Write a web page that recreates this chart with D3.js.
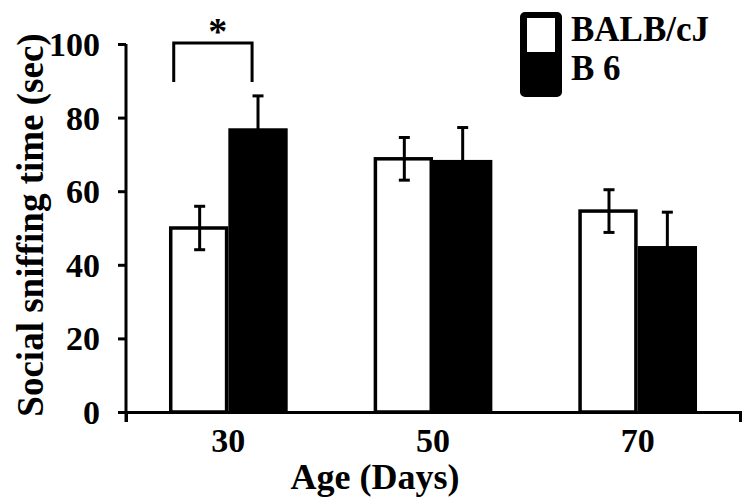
<!DOCTYPE html>
<html><head><meta charset="utf-8">
<script src="https://cdn.jsdelivr.net/npm/d3@7"></script>
<style>
html,body{margin:0;padding:0;background:#fff;}
svg{display:block;}
</style></head>
<body><svg id="chart" width="750" height="504"></svg>
<script>
const categories = ["30", "50", "70"];
const seriesNames = ["BALB/cJ", "B 6"];
const balbMeans = [50, 68.8, 54.6];
const balbErr = [5.9, 5.8, 5.8];
const b6Means = [77.1, 68.5, 45.1];
const b6Err = [8.8, 8.8, 9.2];
const yTicks = [0, 20, 40, 60, 80, 100];
const xTitle = "Age (Days)";
const yTitle = "Social sniffing time (sec)";

// pick an installed serif font, if any
function pickFont() {
  const cands = ["Liberation Serif", "Times New Roman", "Tinos", "Noto Serif", "DejaVu Serif", "FreeSerif", "Nimbus Roman", "Nimbus Roman No9 L", "Times"];
  const c = document.createElement("canvas").getContext("2d");
  const s = "Social sniffing time (sec) BALB/cJ 0123456789";
  const base = {};
  ["monospace", "sans-serif"].forEach(b => { c.font = `bold 40px ${b}`; base[b] = c.measureText(s).width; });
  for (const f of cands) {
    let ok = true;
    for (const b of ["monospace", "sans-serif"]) {
      c.font = `bold 40px "${f}", ${b}`;
      if (Math.abs(c.measureText(s).width - base[b]) < 0.5) ok = false;
    }
    if (ok) return `"${f}", serif`;
  }
  return `serif`;
}
const FONT = pickFont();

const svg = d3.select("#chart");
const L = 126, R = 740, T = 44, B = 412;

const x0 = d3.scaleBand().domain(categories).range([L, R]).paddingInner(0.42).paddingOuter(0.21);
const x1 = d3.scaleBand().domain(seriesNames).range([0, x0.bandwidth()]);
const y = d3.scaleLinear().domain([0, 100]).range([B, T]);

const data = categories.map((c, i) => ({
  cat: c,
  vals: [
    {s: seriesNames[0], v: balbMeans[i], e: balbErr[i]},
    {s: seriesNames[1], v: b6Means[i], e: b6Err[i]}
  ]
}));

// bars
const g = svg.append("g");
const groups = g.selectAll("g.grp").data(data).join("g")
  .attr("transform", d => `translate(${x0(d.cat)},0)`);
const sw = 3.5;
groups.selectAll("rect").data(d => d.vals).join("rect")
  .attr("x", d => x1(d.s) + (d.s === seriesNames[0] ? sw/2 : 0))
  .attr("y", d => y(d.v))
  .attr("width", d => x1.bandwidth() - (d.s === seriesNames[0] ? sw : 0))
  .attr("height", d => y(0) - y(d.v))
  .attr("fill", d => d.s === seriesNames[0] ? "#fff" : "#000")
  .attr("stroke", "#000")
  .attr("stroke-width", d => d.s === seriesNames[0] ? sw : 0);

// error bars
const eb = groups.selectAll("g.eb").data(d => d.vals).join("g")
  .attr("stroke", "#000").attr("stroke-width", 3);
const cx = d => x1(d.s) + x1.bandwidth()/2 + (d.s === seriesNames[0] ? 1 : 0);
eb.append("line")
  .attr("x1", cx).attr("x2", cx)
  .attr("y1", d => y(d.v + d.e)).attr("y2", d => y(d.v - d.e));
[1, -1].forEach(sgn => {
  eb.append("line")
    .attr("x1", d => cx(d) - 5.5).attr("x2", d => cx(d) + 5.5)
    .attr("y1", d => y(d.v + sgn*d.e)).attr("y2", d => y(d.v + sgn*d.e));
});

// axes
const yAxis = d3.axisLeft(y).tickValues(yTicks).tickSizeInner(8).tickSizeOuter(0).tickPadding(18);
const ya = svg.append("g").attr("transform", `translate(${L},0)`).call(yAxis);
ya.select(".domain").attr("stroke-width", 3).attr("d", `M0,${T}V${B + 10}`);
ya.selectAll(".tick line").attr("stroke-width", 3);
ya.selectAll(".tick text").attr("font-size", 34).attr("dy", "0.34em");

const xAxis = d3.axisBottom(x0).tickSizeInner(0).tickSizeOuter(10).tickPadding(16);
const xa = svg.append("g").attr("transform", `translate(0,${B})`).call(xAxis);
xa.select(".domain").attr("stroke-width", 3);
xa.selectAll(".tick text").attr("font-size", 34);

// axis titles
svg.append("text").attr("x", 375).attr("y", 489).attr("text-anchor", "middle")
  .attr("font-size", 36).text(xTitle);
svg.append("text").attr("transform", "translate(43,225) rotate(-90)").attr("text-anchor", "middle")
  .attr("font-size", 37).text(yTitle);

// significance bracket
const bx = x0("30"), bw = x0.bandwidth();
svg.append("path")
  .attr("d", `M${bx + 0.04*bw},${y(89.7)}V${y(100) - 1}H${bx + 0.70*bw}V${y(89.7)}`)
  .attr("fill", "none").attr("stroke", "#000").attr("stroke-width", 3);
svg.append("text").attr("x", bx + 0.41*bw).attr("y", 44).attr("text-anchor", "middle")
  .attr("font-size", 38).text("*");

// legend
const lg = svg.append("g");
lg.append("rect").attr("x", 522).attr("y", 14).attr("width", 38).attr("height", 81)
  .attr("rx", 3).attr("fill", "#000").attr("stroke", "#000").attr("stroke-width", 4);
lg.append("rect").attr("x", 527).attr("y", 18).attr("width", 28).attr("height", 34).attr("fill", "#fff");
lg.append("text").attr("x", 571).attr("y", 41).attr("font-size", 35).text(seriesNames[0]);
lg.append("text").attr("x", 571).attr("y", 80).attr("font-size", 35).text(seriesNames[1]);

svg.selectAll("text")
  .style("font-family", FONT)
  .style("font-weight", "bold")
  .style("fill", "#000");
</script></body></html>
